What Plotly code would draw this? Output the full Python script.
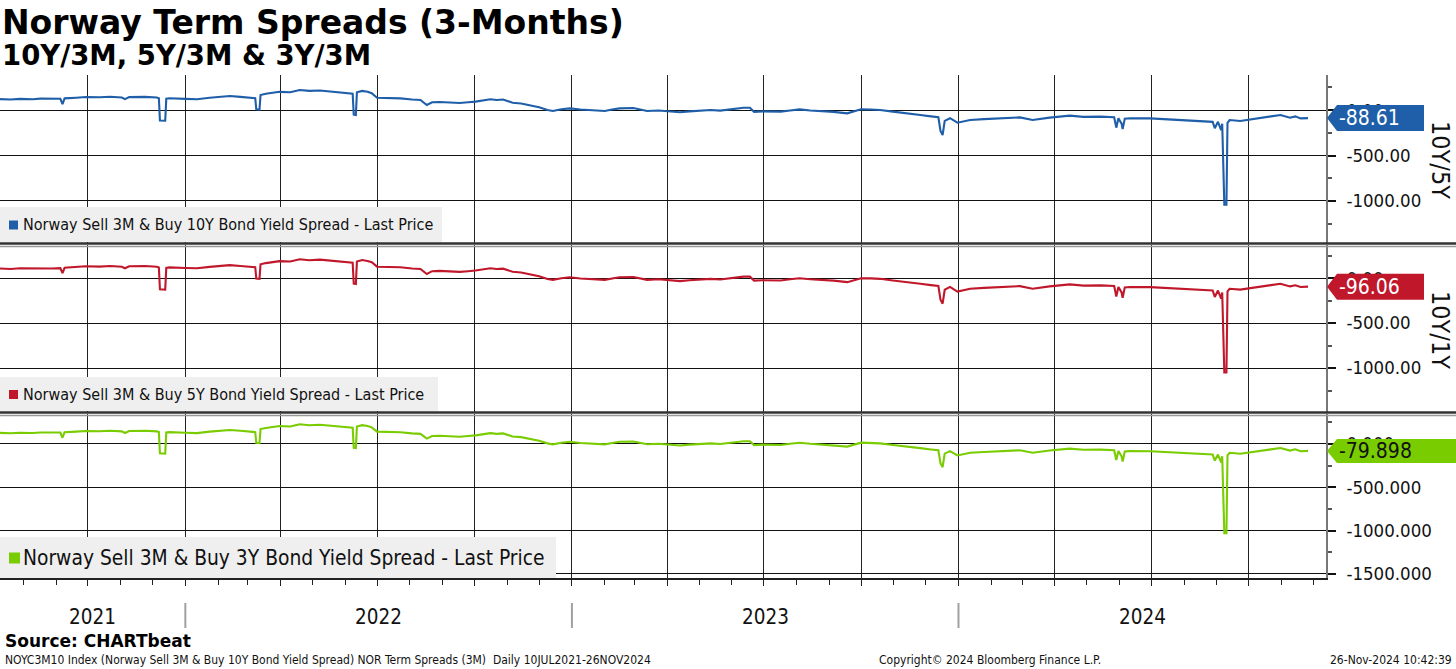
import plotly.graph_objects as go
import pandas as pd

# ---------------- data ----------------
DATES = [
    "2021-07-10", "2021-07-20", "2021-07-29", "2021-08-10", "2021-08-17", "2021-08-28", "2021-09-05", "2021-09-07", "2021-09-09", "2021-09-20",
    "2021-09-29", "2021-10-12", "2021-10-22", "2021-11-02", "2021-11-05", "2021-11-09", "2021-11-24", "2021-12-05", "2021-12-07", "2021-12-08",
    "2021-12-13", "2021-12-14", "2021-12-17", "2022-01-01", "2022-01-12", "2022-01-24", "2022-02-05", "2022-02-12", "2022-02-22", "2022-03-03",
    "2022-03-08", "2022-03-09", "2022-03-12", "2022-03-13", "2022-03-18", "2022-03-31", "2022-04-10", "2022-04-19", "2022-04-28", "2022-05-08",
    "2022-05-20", "2022-06-01", "2022-06-08", "2022-06-09", "2022-06-11", "2022-06-12", "2022-06-17", "2022-06-22", "2022-06-26", "2022-07-01",
    "2022-07-12", "2022-07-23", "2022-08-03", "2022-08-11", "2022-08-17", "2022-08-22", "2022-08-29", "2022-09-08", "2022-09-17", "2022-09-25",
    "2022-10-02", "2022-10-16", "2022-10-22", "2022-10-28", "2022-11-06", "2022-11-14", "2022-11-22", "2022-12-01", "2022-12-09", "2022-12-14",
    "2022-12-22", "2022-12-30", "2023-01-09", "2023-01-18", "2023-02-01", "2023-02-08", "2023-02-15", "2023-02-28", "2023-03-06", "2023-03-13",
    "2023-03-24", "2023-04-04", "2023-04-13", "2023-04-22", "2023-05-02", "2023-05-12", "2023-05-21", "2023-06-01", "2023-06-12", "2023-06-18",
    "2023-06-22", "2023-06-30", "2023-07-17", "2023-07-26", "2023-08-04", "2023-08-14", "2023-08-23", "2023-09-05", "2023-09-18", "2023-10-01",
    "2023-10-10", "2023-10-19", "2023-10-31", "2023-11-10", "2023-11-26", "2023-12-06", "2023-12-13", "2023-12-15", "2023-12-17", "2023-12-19",
    "2023-12-24", "2023-12-31", "2024-01-12", "2024-01-25", "2024-02-09", "2024-02-28", "2024-03-11", "2024-03-27", "2024-04-15", "2024-04-28",
    "2024-05-14", "2024-05-27", "2024-05-29", "2024-05-31", "2024-06-03", "2024-06-04", "2024-06-06", "2024-06-11", "2024-06-30", "2024-07-12",
    "2024-07-24", "2024-08-05", "2024-08-16", "2024-08-28", "2024-08-30", "2024-09-02", "2024-09-05", "2024-09-06", "2024-09-08", "2024-09-10",
    "2024-09-11", "2024-09-13", "2024-09-23", "2024-10-03", "2024-10-12", "2024-10-22", "2024-10-31", "2024-11-05", "2024-11-09", "2024-11-14",
    "2024-11-19", "2024-11-26",
]

SPREAD_10Y = [
    120, 115, 122, 118, 125, 120, 124, 66, 128, 135,
    143, 140, 146, 138, 120, 142, 145, 138, 130, -115,
    -118, 125, 130, 122, 118, 135, 148, 154, 145, 135,
    130, 8, 5, 165, 178, 200, 195, 220, 210, 215,
    200, 187, 180, -50, -55, 195, 210, 200, 185, 135,
    132, 128, 115, 110, 55, 85, 88, 80, 77, 85,
    92, 118, 110, 115, 80, 72, 55, 30, 0, -11,
    8, 18, 5, 0, -11, 5, 18, 22, 10, -11,
    -5, -18, -25, -15, -11, 0, -7, 10, 25, 25,
    -20, -15, -18, -5, 7, -5, -11, -20, -37, 8,
    5, 0, -18, -35, -55, -70, -80, -230, -275, -120,
    -90, -140, -110, -100, -92, -81, -110, -84, -62, -75,
    -73, -80, -194, -90, -150, -210, -95, -90, -92, -100,
    -110, -115, -128, -130, -200, -130, -220, -150, -1040, -1040,
    -140, -110, -120, -100, -84, -70, -55, -75, -84, -70,
    -92, -88.61,
]

SPREAD_5Y = [
    105, 100, 108, 104, 110, 106, 110, 55, 114, 122,
    130, 127, 133, 125, 108, 130, 133, 126, 118, -125,
    -128, 112, 118, 112, 108, 124, 137, 143, 134, 125,
    120, -5, -8, 152, 166, 188, 184, 208, 198, 204,
    190, 176, 170, -62, -66, 184, 200, 190, 175, 126,
    123, 119, 106, 100, 45, 76, 79, 71, 68, 76,
    83, 108, 100, 104, 70, 62, 45, 20, -10, -20,
    -2, 8, -5, -10, -20, -5, 8, 12, 0, -20,
    -14, -27, -34, -24, -20, -9, -16, 0, 15, 15,
    -29, -24, -27, -14, -2, -14, -20, -29, -46, -2,
    -4, -9, -27, -44, -64, -79, -88, -240, -285, -130,
    -99, -150, -119, -109, -101, -90, -119, -93, -71, -84,
    -82, -89, -205, -99, -160, -220, -104, -99, -101, -109,
    -119, -124, -137, -139, -210, -139, -230, -160, -1050, -1050,
    -149, -119, -129, -109, -93, -79, -64, -84, -93, -80,
    -100, -96.06,
]

SPREAD_3Y = [
    128, 123, 130, 126, 133, 128, 132, 72, 136, 143,
    150, 147, 153, 145, 127, 149, 152, 145, 137, -108,
    -112, 132, 137, 129, 125, 142, 155, 161, 152, 142,
    137, 14, 10, 172, 185, 207, 202, 227, 217, 222,
    207, 194, 187, -45, -48, 202, 217, 207, 192, 142,
    139, 135, 122, 117, 62, 92, 95, 87, 84, 92,
    99, 125, 117, 122, 87, 79, 62, 37, 7, -4,
    15, 25, 12, 7, -4, 12, 25, 29, 17, -4,
    2, -11, -18, -8, -4, 7, 0, 17, 32, 32,
    -13, -8, -11, 2, 14, 2, -4, -13, -30, 15,
    12, 7, -11, -28, -48, -63, -72, -222, -268, -112,
    -82, -132, -102, -92, -84, -73, -102, -76, -54, -67,
    -65, -72, -186, -82, -142, -202, -87, -82, -84, -92,
    -102, -107, -120, -122, -192, -122, -212, -142, -1030, -1030,
    -132, -102, -112, -92, -76, -62, -47, -67, -76, -62,
    -84, -79.898,
]

SERIES_NAMES = [
    "Norway Sell 3M & Buy 10Y Bond Yield Spread - Last Price",
    "Norway Sell 3M & Buy 5Y Bond Yield Spread - Last Price",
    "Norway Sell 3M & Buy 3Y Bond Yield Spread - Last Price",
]
SIDE_LABELS = ["10Y/5Y", "10Y/1Y", ""]
Y_TICKS = [[0, -500, -1000], [0, -500, -1000], [0, -500, -1000, -1500]]
Y_MINOR = [[250, -250, -750, -1250], [250, -250, -750, -1250], [250, -250, -750, -1250]]
DECIMALS = [2, 2, 3]
YEAR_LABELS = ["2021", "2022", "2023", "2024"]
X_RANGE = ["2021-07-10", "2024-12-13"]

TITLE = "Norway Term Spreads (3-Months)"
SUBTITLE = "10Y/3M, 5Y/3M & 3Y/3M"
SOURCE = "Source: CHARTbeat"
FOOT_LEFT = "NOYC3M10 Index (Norway Sell 3M & Buy 10Y Bond Yield Spread) NOR Term Spreads (3M)  Daily 10JUL2021-26NOV2024"
FOOT_MID = "Copyright\u00a9 2024 Bloomberg Finance L.P."
FOOT_RIGHT = "26-Nov-2024 10:42:39"

# ---------------- styling / layout ----------------
COLORS = ["#1f5ea8", "#c0172b", "#79cc00"]
TAG_TEXT = ["white", "white", "#111111"]
NARROW = "DejaVu Sans Condensed, Liberation Sans Narrow, sans-serif"
BOLD = "DejaVu Sans, sans-serif"

W, H = 1456, 669
ML, MR, MT, MB = 0, 130, 75, 91
PW = W - ML - MR
PH = H - MT - MB


def fx(px):
    return (px - ML) / PW


def fy(py):
    return (H - MB - py) / PH


PANELS = [
    dict(top=75, bot=243, yr=[-1462, 385], tag_h=13, tag_r=1424, leg=(0, 442, 207, 242), fs=16, side_y=160),
    dict(top=245, bot=412, yr=[-1489, 367], tag_h=13, tag_r=1424, leg=(0, 438, 377, 411), fs=16, side_y=330),
    dict(top=414, bot=578, yr=[-1547, 346], tag_h=12, tag_r=1456, leg=(0, 556, 537, 578), fs=20.8, side_y=500),
]
SERIES = [SPREAD_10Y, SPREAD_5Y, SPREAD_3Y]

fig = go.Figure()
shapes = []
annotations = []
layout = {}

for i, (p, vals) in enumerate(zip(PANELS, SERIES)):
    k = "" if i == 0 else str(i + 1)
    fig.add_trace(go.Scatter(
        x=DATES, y=vals, mode="lines",
        line=dict(color=COLORS[i], width=2.1),
        xaxis="x" + k, yaxis="y" + k, showlegend=False, hoverinfo="skip",
    ))
    bottom = (i == 2)
    layout["xaxis" + k] = dict(
        domain=[0, 1], anchor="y" + k, type="date", range=X_RANGE,
        matches=None if i == 0 else "x",
        tick0="2021-10-01", dtick="M3",
        showgrid=True, gridcolor="#222222", gridwidth=1,
        showticklabels=False,
        ticks="outside" if bottom else "", ticklen=6, tickcolor="#222222",
        minor=dict(dtick="M1", ticks="outside" if bottom else "", ticklen=5,
                   tickcolor="#222222", showgrid=False),
        showline=bottom, linecolor="#222222", linewidth=1.5,
        zeroline=False, fixedrange=True,
    )
    d = DECIMALS[i]
    layout["yaxis" + k] = dict(
        domain=[fy(p["bot"]), fy(p["top"])], anchor="x" + k, side="right",
        range=p["yr"],
        tickmode="array", tickvals=Y_TICKS[i],
        ticktext=[f"{v:.{d}f}" for v in Y_TICKS[i]],
        ticks="outside", ticklen=8, tickwidth=2, tickcolor="#111111",
        ticklabelstandoff=7,
        minor=dict(tickvals=Y_MINOR[i], ticks="outside", ticklen=4, tickcolor="#555555", showgrid=False),
        showgrid=True, gridcolor="#111111", gridwidth=1,
        zeroline=False, showline=True, linecolor="#777777", linewidth=1.5,
        tickfont=dict(family=NARROW, size=18.5, color="#111111"),
        fixedrange=True,
    )

    # last price tag
    upp = (p["yr"][1] - p["yr"][0]) / (p["bot"] - p["top"])
    last = vals[-1]
    h = p["tag_h"] * upp
    tip, notch, right = fx(1327), fx(1337), fx(p["tag_r"])
    shapes.append(dict(
        type="path", xref="paper", yref="y" + k, layer="above",
        path=f"M {tip} {last} L {notch} {last + h} L {right} {last + h} L {right} {last - h} L {notch} {last - h} Z",
        fillcolor=COLORS[i], line=dict(width=0),
    ))
    annotations.append(dict(
        xref="paper", yref="y" + k, x=fx(1337), y=last, xanchor="left", yanchor="middle",
        text=f"{last:.{d}f}", showarrow=False,
        font=dict(family=NARROW, size=21, color=TAG_TEXT[i]),
    ))

    # rotated side label
    if SIDE_LABELS[i]:
        annotations.append(dict(
            xref="paper", yref="paper", x=fx(1441), y=fy(p["side_y"]), textangle=90,
            text=SIDE_LABELS[i], showarrow=False, xanchor="center", yanchor="middle",
            font=dict(family=NARROW, size=25, color="#111111"),
        ))

    # legend box
    x0, x1, y0, y1 = p["leg"]
    shapes.append(dict(type="rect", xref="paper", yref="paper", layer="above",
                       x0=fx(x0), x1=fx(x1), y0=fy(y1), y1=fy(y0),
                       fillcolor="#efefef", line=dict(width=0)))
    cy = (y0 + y1) / 2
    sq = 5 if p["fs"] < 20 else 6
    shapes.append(dict(type="rect", xref="paper", yref="paper", layer="above",
                       x0=fx(9), x1=fx(9 + 2 * sq - 1), y0=fy(cy + sq), y1=fy(cy - sq + 1),
                       fillcolor=COLORS[i], line=dict(width=0)))
    annotations.append(dict(
        xref="paper", yref="paper", x=fx(21), y=fy(cy), xanchor="left", yanchor="middle",
        text=SERIES_NAMES[i], showarrow=False,
        font=dict(family=NARROW, size=p["fs"], color="#111111"),
    ))

# panel separators (double lines)
for py, col, wd in [(243.5, "#333333", 2.5), (246.5, "#999999", 1.5),
                    (412.5, "#333333", 2.5), (415.5, "#999999", 1.5)]:
    shapes.append(dict(type="line", xref="paper", yref="paper", layer="above",
                       x0=0, x1=fx(W), y0=fy(py), y1=fy(py), line=dict(color=col, width=wd)))

# year labels and separators
r0, r1 = pd.Timestamp(X_RANGE[0]), pd.Timestamp(X_RANGE[1])
for lab in YEAR_LABELS:
    y_start = max(pd.Timestamp(f"{lab}-01-01"), r0)
    y_end = min(pd.Timestamp(f"{int(lab) + 1}-01-01"), r1)
    mid = y_start + (y_end - y_start) / 2
    annotations.append(dict(
        xref="x3", yref="paper", x=mid.strftime("%Y-%m-%d %H:%M"), y=fy(617),
        text=lab, showarrow=False, xanchor="center", yanchor="middle",
        font=dict(family=NARROW, size=20.5, color="#111111"),
    ))
    if pd.Timestamp(f"{lab}-01-01") > r0:
        shapes.append(dict(type="line", xref="x3", yref="paper",
                           x0=f"{lab}-01-01", x1=f"{lab}-01-01", y0=fy(603), y1=fy(628),
                           line=dict(color="#a0a0a0", width=2)))

# titles and footer
annotations += [
    dict(xref="paper", yref="paper", x=fx(0), y=fy(22), xanchor="left", yanchor="middle",
         text=f"<b>{TITLE}</b>", showarrow=False, font=dict(family=BOLD, size=33, color="#000000")),
    dict(xref="paper", yref="paper", x=fx(0), y=fy(55), xanchor="left", yanchor="middle",
         text=f"<b>{SUBTITLE}</b>", showarrow=False, font=dict(family=BOLD, size=27.5, color="#000000")),
    dict(xref="paper", yref="paper", x=fx(3), y=fy(641), xanchor="left", yanchor="middle",
         text=f"<b>{SOURCE}</b>", showarrow=False, font=dict(family=BOLD, size=17, color="#000000")),
    dict(xref="paper", yref="paper", x=fx(3), y=fy(660), xanchor="left", yanchor="middle",
         text=FOOT_LEFT, showarrow=False, font=dict(family=NARROW, size=12, color="#111111")),
    dict(xref="paper", yref="paper", x=fx(990), y=fy(660), xanchor="center", yanchor="middle",
         text=FOOT_MID, showarrow=False, font=dict(family=NARROW, size=12, color="#111111")),
    dict(xref="paper", yref="paper", x=fx(1454), y=fy(660), xanchor="right", yanchor="middle",
         text=FOOT_RIGHT, showarrow=False, font=dict(family=NARROW, size=12, color="#111111")),
]

fig.update_layout(
    width=W, height=H,
    margin=dict(l=ML, r=MR, t=MT, b=MB, pad=0),
    paper_bgcolor="white", plot_bgcolor="white",
    shapes=shapes, annotations=annotations,
    showlegend=False,
    **layout,
)

fig.write_html(
    "out.html",
    config={"displayModeBar": False},
    post_script="document.body.style.margin='0px';document.body.style.padding='0px';",
)
